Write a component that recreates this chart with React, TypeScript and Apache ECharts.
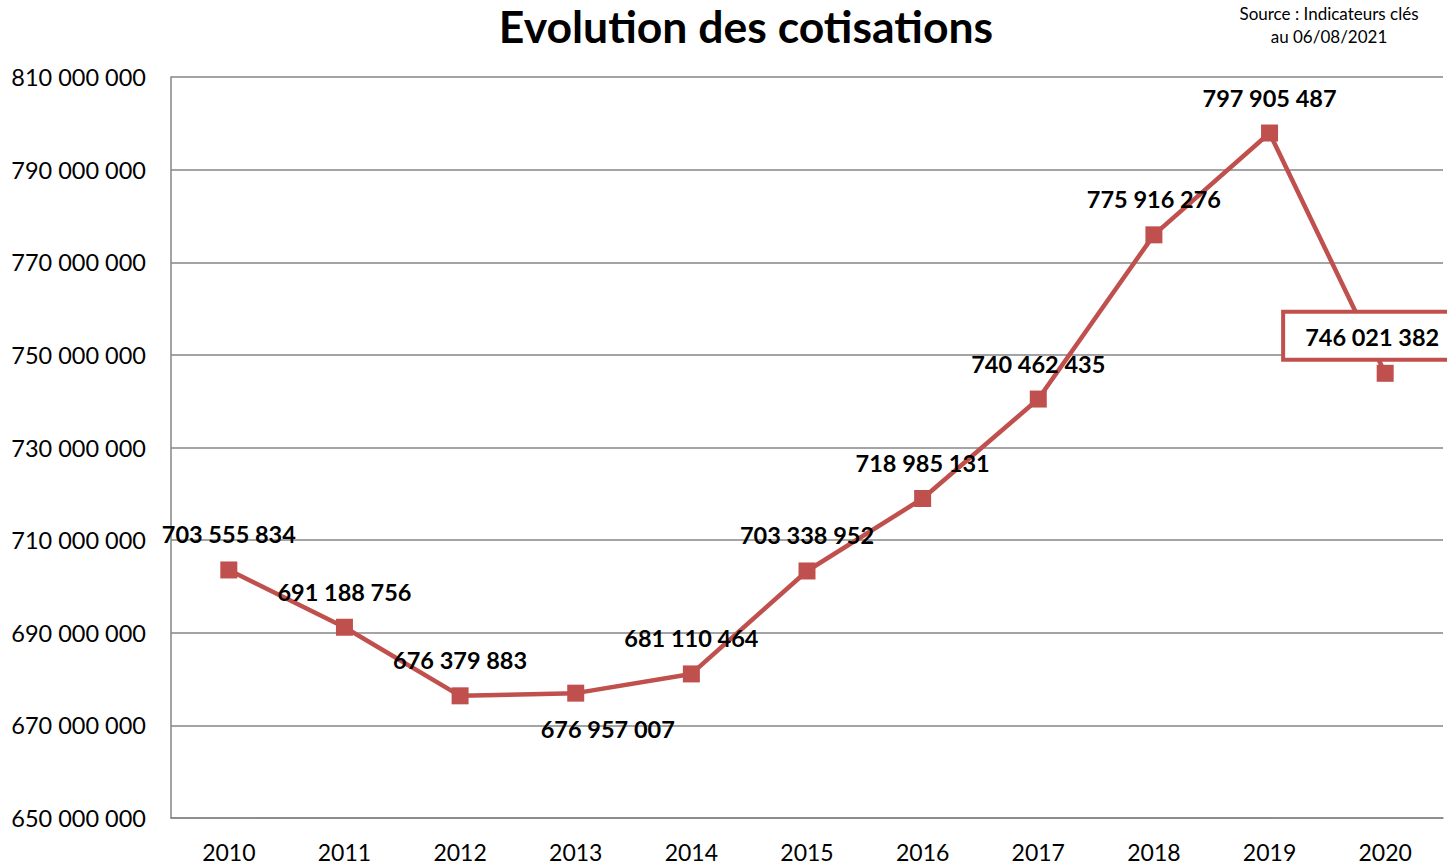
import React, { useEffect, useRef } from "react";
import * as echarts from "echarts";

const years = ["2010", "2011", "2012", "2013", "2014", "2015", "2016", "2017", "2018", "2019", "2020"];
const cotisations = [703555834, 691188756, 676379883, 676957007, 681110464, 703338952, 718985131, 740462435, 775916276, 797905487, 746021382];
const titleText = "Evolution des cotisations";
const sourceText = "Source : Indicateurs clés\nau 06/08/2021";

const RED = "#C0504D";
const FONT = "Lato, 'Open Sans', sans-serif";

function fmt(v: number): string {
  return String(Math.round(v)).replace(/\B(?=(\d{3})+(?!\d))/g, " ");
}

export default function App() {
  const ref = useRef<HTMLDivElement>(null);
  useEffect(() => {
    if (!ref.current) return;
    const chart = echarts.init(ref.current, undefined, { renderer: "svg" });
    const data = cotisations.map((v, i) => {
      const item: any = { value: v };
      if (i === 3) {
        item.label = { position: "bottom", offset: [32, 0], distance: 15 };
      }
      if (i === 10) {
        item.label = {
          position: "top",
          offset: [-13, 0],
          distance: 7,
          backgroundColor: "#ffffff",
          borderColor: RED,
          borderWidth: 4,
          padding: [11, 20, 9, 20],
        };
      }
      return item;
    });
    chart.setOption({
      animation: false,
      title: [
        {
          text: titleText,
          left: 741,
          top: -2,
          textAlign: "center",
          textStyle: { fontFamily: FONT, fontWeight: "bold", fontSize: 44.5, color: "#000" },
        },
        {
          text: sourceText,
          left: 1324,
          top: -3,
          textAlign: "center",
          textStyle: { fontFamily: FONT, fontWeight: "normal", fontSize: 17, color: "#000", lineHeight: 23, align: "center" },
        },
      ],
      grid: { left: 171, right: 4, top: 77, bottom: 46, containLabel: false },
      xAxis: {
        type: "category",
        data: years,
        boundaryGap: true,
        axisLine: { lineStyle: { color: "#868686", width: 1.5 } },
        axisTick: { show: false },
        axisLabel: { color: "#000", fontFamily: FONT, fontSize: 23, margin: 22 },
      },
      yAxis: {
        type: "value",
        min: 650000000,
        max: 810000000,
        interval: 20000000,
        axisLine: { show: true, lineStyle: { color: "#868686", width: 1.5 } },
        axisTick: { show: false },
        splitLine: { lineStyle: { color: "#868686", width: 1.5 } },
        axisLabel: { color: "#000", fontFamily: FONT, fontSize: 23.5, margin: 25, formatter: (v: number) => fmt(v) },
      },
      series: [
        {
          type: "line",
          data,
          symbol: "rect",
          symbolSize: 17,
          lineStyle: { color: RED, width: 4.5 },
          itemStyle: { color: RED },
          label: {
            show: true,
            position: "top",
            distance: 15,
            color: "#000",
            fontFamily: FONT,
            fontWeight: "bold",
            fontSize: 23.5,
            formatter: (p: any) => fmt(p.value),
          },
        },
      ],
    });
    return () => chart.dispose();
  }, []);
  return <div ref={ref} style={{ width: 1447, height: 864, position: "absolute", left: 0, top: 0 }} />;
}
